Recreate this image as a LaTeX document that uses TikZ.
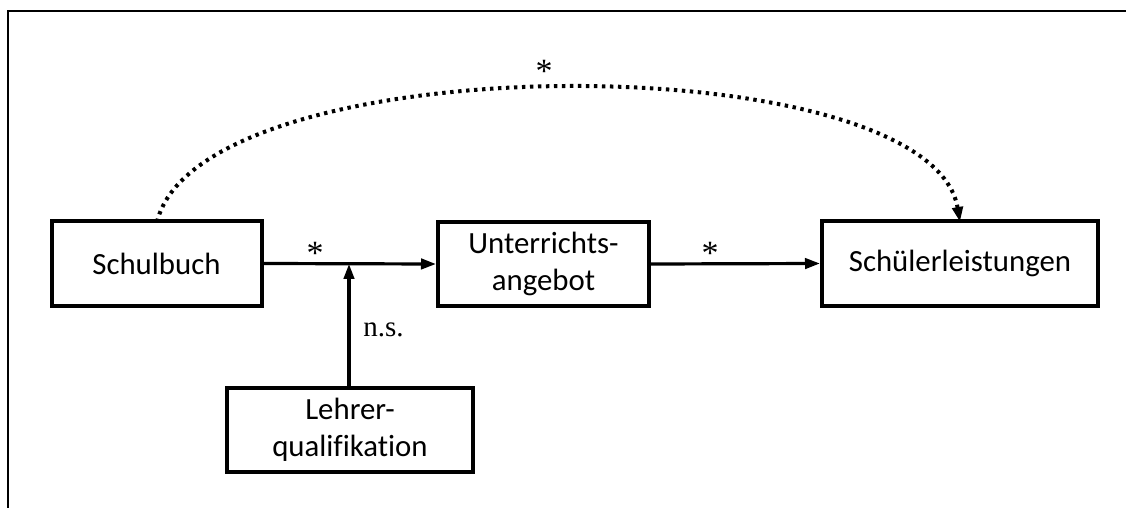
\documentclass[tikz,border=0pt]{standalone}
\usepackage{fontspec}
\setmainfont{Liberation Serif}
\newfontfamily\boxfont[Ligatures=NoCommon]{Carlito}
\usetikzlibrary{arrows.meta}
\begin{document}
\begin{tikzpicture}[x=0.5pt,y=-0.5pt,
  box/.style={draw, line width=2pt, minimum height=42pt, inner sep=0pt, align=center,
    font=\boxfont\fontsize{15.4}{18.5}\selectfont},
  conn/.style={line width=1.6pt, -{Triangle[length=7.5pt,width=5.2pt]}},
  dots/.style={line width=2pt, dash pattern=on 1.7pt off 2.3pt, -{Triangle[length=7.5pt,width=5.2pt]}},
  star/.style={font=\fontsize{17}{18}\selectfont, inner sep=0pt, anchor=north},
  lbl/.style={font=\fontsize{14.5}{16}\selectfont, inner sep=0pt}]
\useasboundingbox (0,0) rectangle (1126,508);
\draw[line width=1.1pt] (1126,11) -- (8,11) -- (8,508);
\node[box, minimum width=105pt] (sb) at (156.5,263.5) {Schulbuch};
\node[box, minimum width=105.5pt] (ua) at (543.5,264) {Unterrichts-\\angebot};
\node[box, minimum width=138pt] (sl) at (960,263.5) {Schülerleistungen};
\node[box, minimum width=123pt] (lq) at (350,430) {Lehrer-\\qualifikation};
\coordinate (j) at (349,264);
\draw[conn] (sb.east) -- (ua.west);
\draw[conn] (lq.north -| j) -- (j);
\draw[conn] (ua.east) -- (sl.west);
\coordinate (cs) at (157,222);
\coordinate (ce) at (960,222);
\draw[dots] (cs) .. controls (200,43) and (930,43) .. (ce);
\node[star] (s1) at (315,242) {*};
\node[star] (s2) at (710,242) {*};
\node[star] (s3) at (544,60) {*};
\node[lbl, anchor=west] (ns) at (363,330) {n.s.};
\end{tikzpicture}
\end{document}
